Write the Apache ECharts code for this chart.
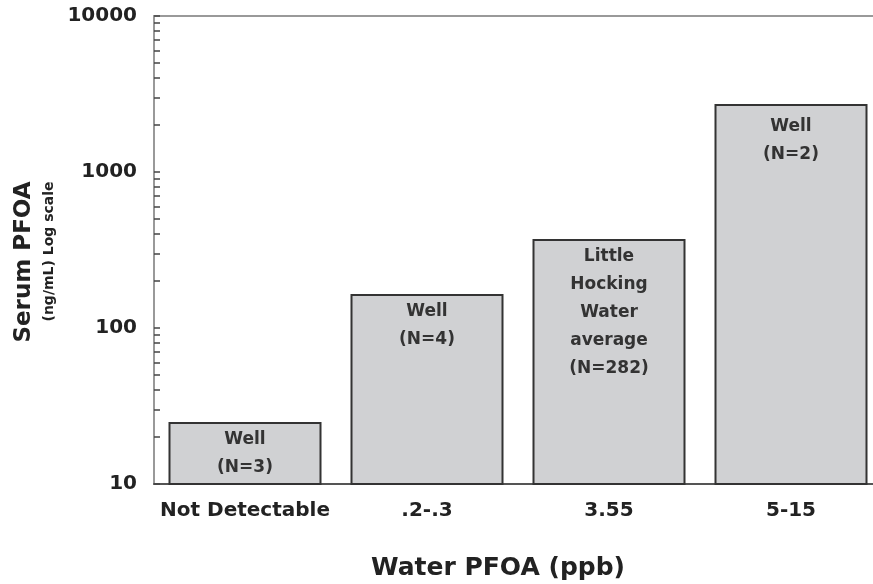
<!DOCTYPE html>
<html>
<head>
<meta charset="utf-8">
<script src="https://cdn.jsdelivr.net/npm/echarts@6/dist/echarts.min.js"></script>
<style>html,body{margin:0;padding:0;background:#fff}#c{width:873px;height:584px}</style>
</head>
<body>
<div id="c"></div>
<script>
const categories = ['Not Detectable', '.2-.3', '3.55', '5-15'];
const serumValues = [25, 165, 372, 2730];
const barLabels = ['Well\n(N=3)', 'Well\n(N=4)', 'Little\nHocking\nWater\naverage\n(N=282)', 'Well\n(N=2)'];
const yTickLabels = [10, 100, 1000, 10000];
const minorTickValues = [];
[10, 100, 1000].forEach(d => { for (let k = 1; k <= 9; k++) minorTickValues.push(d * k); });
minorTickValues.push(10000);

const font = '"DejaVu Sans", "Liberation Sans", Arial, sans-serif';
const chart = echarts.init(document.getElementById('c'));
chart.setOption({
  animation: false,
  grid: { left: 154, top: 16, width: 728, height: 468, outerBoundsMode: 'none', containLabel: false },
  xAxis: [{
    type: 'category',
    data: categories,
    axisTick: { show: false },
    axisLine: { lineStyle: { color: '#555', width: 2 } },
    axisLabel: { interval: 0, margin: 17, fontSize: 20, fontWeight: 'bold', color: '#222', fontFamily: font },
    name: 'Water PFOA (ppb)',
    nameLocation: 'middle',
    nameGap: 72,
    nameTextStyle: { fontSize: 25, fontWeight: 'bold', color: '#222', fontFamily: font, padding: [0, 40, 0, 0] }
  }, {
    type: 'category',
    position: 'top',
    data: categories,
    axisTick: { show: false },
    axisLabel: { show: false },
    axisLine: { lineStyle: { color: '#999', width: 2 } }
  }],
  yAxis: {
    type: 'log',
    logBase: 10,
    min: 10,
    max: 10000,
    axisLine: { show: true, lineStyle: { color: '#999', width: 2 } },
    axisTick: { show: true, inside: true, length: 6, lineStyle: { color: '#444', width: 1.5 }, customValues: minorTickValues },
    axisLabel: { margin: 17, fontSize: 20, fontWeight: 'bold', color: '#222', fontFamily: font, customValues: yTickLabels, formatter: v => String(Math.round(v)) },
    splitLine: { show: false },
    name: '{a|Serum PFOA}\n{b|(ng/mL) Log scale}',
    nameLocation: 'middle',
    nameRotate: 90,
    nameGap: 93,
    nameTextStyle: {
      fontFamily: font, color: '#222',
      padding: [0, 24, 0, 0],
      rich: {
        a: { fontSize: 23, fontWeight: 'bold', lineHeight: 28, fontFamily: font, color: '#222', align: 'right' },
        b: { fontSize: 14, fontWeight: 'bold', lineHeight: 22, fontFamily: font, color: '#222', align: 'right' }
      }
    }
  },
  series: [{
    type: 'bar',
    barWidth: 153,
    data: serumValues.map((v, i) => ({
      value: v,
      label: { formatter: barLabels[i], distance: i === 3 ? 9 : 4 }
    })),
    itemStyle: { color: '#d0d1d3', borderColor: '#333', borderWidth: 2 },
    label: {
      show: true,
      position: 'insideTop',
      fontSize: 17,
      fontWeight: 'bold',
      lineHeight: 28,
      color: '#333',
      fontFamily: font,
      align: 'center'
    }
  }]
});
</script>
</body>
</html>
